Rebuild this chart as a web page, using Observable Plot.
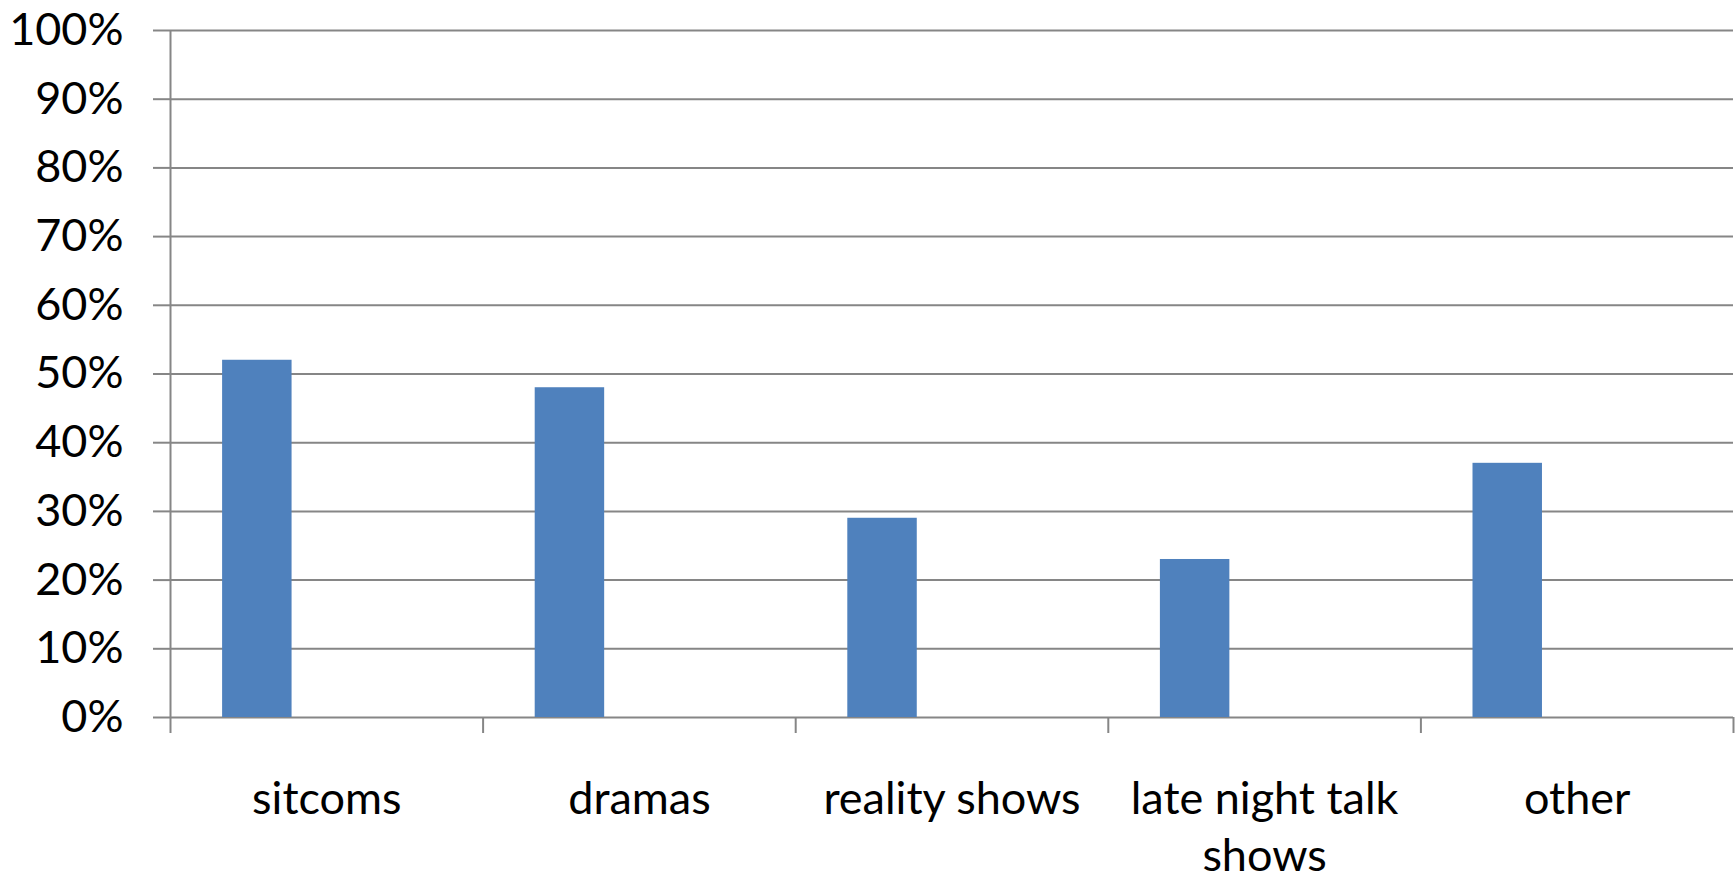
<!DOCTYPE html>
<html>
<head>
<meta charset="utf-8">
<script src="https://cdn.jsdelivr.net/npm/d3@7"></script>
<script src="https://cdn.jsdelivr.net/npm/@observablehq/plot@0.6"></script>
<style>
  html, body { margin: 0; padding: 0; background: #fff; }
  #chart svg { display: block; }
</style>
</head>
<body>
<div id="chart"></div>
<script>
const categories = ["sitcoms", "dramas", "reality shows", "late night talk\nshows", "other"];
const values = [0.52, 0.48, 0.29, 0.23, 0.37];
const yTicks = [0, 0.1, 0.2, 0.3, 0.4, 0.5, 0.6, 0.7, 0.8, 0.9, 1.0];

const data = categories.map((c, i) => ({ category: c, index: i, value: values[i] }));
const boundaries = d3.range(categories.length + 1);
const centers = categories.map((c, i) => i + 0.5);

const W = 1735, H = 882;
const mL = 170, mR = 2;
const band = (W - mL - mR) / categories.length;

const grey = "#868686";
const font = "Lato, 'Open Sans', sans-serif";

const plot = Plot.plot({
  width: W,
  height: H,
  marginLeft: mL,
  marginRight: mR,
  marginTop: 30,
  marginBottom: 165,
  style: { fontFamily: font, fontSize: "45px", color: "#000", background: "#fff" },
  x: { type: "linear", domain: [0, categories.length] },
  y: { domain: [0, 1] },
  marks: [
    Plot.gridY(yTicks, { stroke: grey, strokeOpacity: 1, strokeWidth: 2 }),
    Plot.rectY(data, {
      x1: "index",
      x2: d => d.index + 1,
      y: "value",
      fill: "#4f81bd",
      insetLeft: band / 6,
      insetRight: band - band / 6 - band / 4.5
    }),
    Plot.ruleX([0], { stroke: grey, strokeWidth: 2 }),
    Plot.axisY(yTicks, {
      tickFormat: d => Math.round(d * 100) + "%",
      tickSize: 17,
      tickPadding: 30,
      stroke: grey,
      strokeWidth: 2,
      fill: "#000",
      fontSize: 45,
      label: null
    }),
    Plot.axisX(boundaries, {
      tickSize: 16,
      tickFormat: () => "",
      stroke: grey,
      strokeWidth: 2,
      label: null
    }),
    Plot.axisX(centers, {
      tickSize: 0,
      tickPadding: 57,
      tickFormat: d => categories[Math.floor(d)],
      fill: "#000",
      fontSize: 45,
      lineHeight: 1.25,
      label: null
    })
  ]
});

document.getElementById("chart").appendChild(plot);
</script>
</body>
</html>
